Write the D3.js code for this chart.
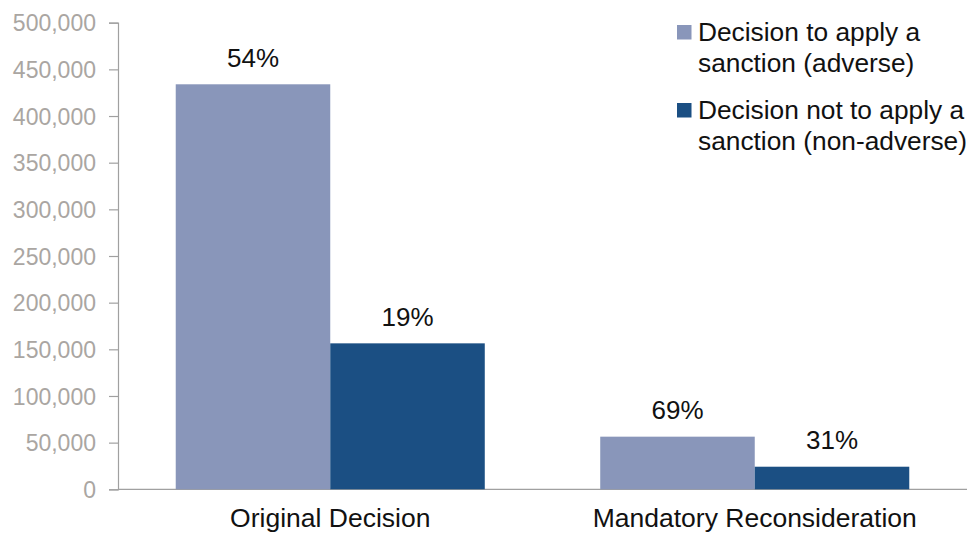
<!DOCTYPE html>
<html>
<head>
<meta charset="utf-8">
<script src="https://cdn.jsdelivr.net/npm/d3@7"></script>
<style>
  body { margin: 0; background: #fff; }
  svg { display: block; font-family: "Liberation Sans", Arial, sans-serif; }
</style>
</head>
<body>
<div id="chart"></div>
<script>
// chart data
var categories = ["Original Decision", "Mandatory Reconsideration"];
var seriesNames = ["Decision to apply a sanction (adverse)", "Decision not to apply a sanction (non-adverse)"];
var legendLines = [["Decision to apply a", "sanction (adverse)"], ["Decision not to apply a", "sanction (non-adverse)"]];
var adverseVals = [434000, 56400];
var nonAdverseVals = [156400, 24200];
var adverseLabels = ["54%", "69%"];
var nonAdverseLabels = ["19%", "31%"];
var yTicks = [0, 50000, 100000, 150000, 200000, 250000, 300000, 350000, 400000, 450000, 500000];

var colors = ["#8996ba", "#1b4f83"];

var width = 971, height = 533;
var margin = { top: 22.7, right: 4, bottom: 43.7, left: 118 };

var svg = d3.select("#chart").append("svg")
    .attr("width", width)
    .attr("height", height);

var x0 = d3.scaleBand()
    .domain(categories)
    .range([margin.left, 967])
    .paddingInner(0.272)
    .paddingOuter(0.136);

var x1 = d3.scaleBand()
    .domain([0, 1])
    .range([0, x0.bandwidth()]);

var y = d3.scaleLinear()
    .domain([0, 500000])
    .range([height - margin.bottom, margin.top]);

// y axis
var yAxis = svg.append("g")
    .attr("transform", "translate(" + margin.left + ",0)")
    .call(d3.axisLeft(y).tickValues(yTicks).tickSize(9).tickPadding(13)
        .tickFormat(d3.format(",")));
yAxis.select(".domain").attr("stroke", "#a0a0a0").attr("stroke-width", 1.2);
yAxis.selectAll(".tick line").attr("stroke", "#a0a0a0").attr("stroke-width", 1.2);
yAxis.selectAll(".tick text")
    .attr("fill", "#aaa6a2")
    .style("font-size", "23px")
    .attr("dy", "0.36em");

// x axis line
svg.append("line")
    .attr("x1", margin.left).attr("x2", 967)
    .attr("y1", y(0)).attr("y2", y(0))
    .attr("stroke", "#a0a0a0").attr("stroke-width", 1.2);

var rows = categories.map(function(c, i) {
    return { cat: c, vals: [adverseVals[i], nonAdverseVals[i]], labels: [adverseLabels[i], nonAdverseLabels[i]] };
});

var group = svg.selectAll(".grp")
    .data(rows)
  .enter().append("g")
    .attr("class", "grp")
    .attr("transform", function(d) { return "translate(" + x0(d.cat) + ",0)"; });

group.selectAll("rect")
    .data(function(d) { return d.vals; })
  .enter().append("rect")
    .attr("x", function(d, i) { return x1(i); })
    .attr("width", x1.bandwidth())
    .attr("y", function(d) { return y(d); })
    .attr("height", function(d) { return y(0) - y(d); })
    .attr("fill", function(d, i) { return colors[i]; });

group.selectAll(".pct")
    .data(function(d) { return d.vals.map(function(v, i) { return { v: v, label: d.labels[i] }; }); })
  .enter().append("text")
    .attr("class", "pct")
    .attr("x", function(d, i) { return x1(i) + x1.bandwidth() / 2; })
    .attr("y", function(d) { return y(d.v) - 17.5; })
    .attr("text-anchor", "middle")
    .style("font-size", "26px")
    .attr("fill", "#111")
    .text(function(d) { return d.label; });

// category labels (kept just inside the bottom edge)
svg.selectAll(".cat")
    .data(categories)
  .enter().append("text")
    .attr("class", "cat")
    .attr("x", function(d) { return x0(d) + x0.bandwidth() / 2; })
    .attr("y", 526.5)
    .attr("text-anchor", "middle")
    .style("font-size", "26.5px")
    .attr("fill", "#111")
    .text(function(d) { return d; });

// legend
var legend = svg.selectAll(".legend")
    .data(seriesNames)
  .enter().append("g")
    .attr("class", "legend")
    .attr("transform", function(d, i) { return "translate(677," + (25 + i * 78) + ")"; });

legend.append("rect")
    .attr("width", 14.5)
    .attr("height", 14.5)
    .attr("fill", function(d, i) { return colors[i]; });

legend.each(function(d, i) {
    var t = d3.select(this).append("text")
        .style("font-size", "26.3px")
        .attr("fill", "#111");
    legendLines[i].forEach(function(line, j) {
        t.append("tspan")
            .attr("x", 21)
            .attr("y", 16 + j * 31)
            .text(line);
    });
});
</script>
</body>
</html>
